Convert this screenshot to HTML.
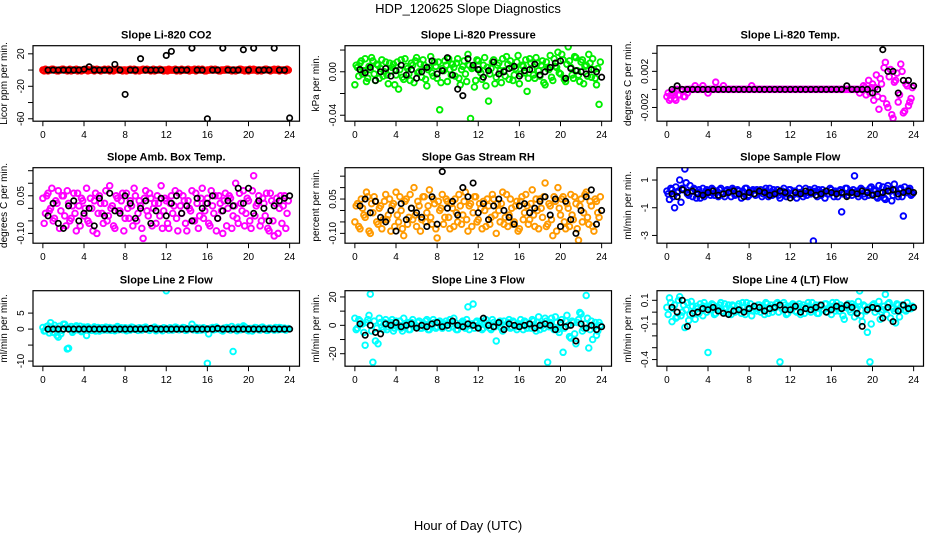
<!DOCTYPE html>
<html><head><meta charset="utf-8"><title>HDP_120625 Slope Diagnostics</title>
<style>
html,body{margin:0;padding:0;background:#fff;}
svg{display:block;font-family:"Liberation Sans",Arial,sans-serif;}
</style></head>
<body>
<svg id="chart" width="936" height="540" viewBox="0 0 936 540" xmlns="http://www.w3.org/2000/svg">
<rect x="0" y="0" width="936" height="540" fill="#fff"/>
<text x="468" y="13" text-anchor="middle" font-size="13">HDP_120625  Slope Diagnostics</text>
<text x="468" y="530" text-anchor="middle" font-size="13">Hour of Day (UTC)</text>
</svg>
<script>
const timesColored = [0,0.25,0.5,0.75,1,1.25,1.5,1.75,2,2.25,2.5,2.75,3,3.25,3.5,3.75,4,4.25,4.5,4.75,5,5.25,5.5,5.75,6,6.25,6.5,6.75,7,7.25,7.5,7.75,8,8.25,8.5,8.75,9,9.25,9.5,9.75,10,10.25,10.5,10.75,11,11.25,11.5,11.75,12,12.25,12.5,12.75,13,13.25,13.5,13.75,14,14.25,14.5,14.75,15,15.25,15.5,15.75,16,16.25,16.5,16.75,17,17.25,17.5,17.75,18,18.25,18.5,18.75,19,19.25,19.5,19.75,20,20.25,20.5,20.75,21,21.25,21.5,21.75,22,22.25,22.5,22.75,23,23.25,23.5,23.75];
const timesColored2 = [0.125,0.375,0.625,0.875,1.125,1.375,1.625,1.875,2.125,2.375,2.625,2.875,3.125,3.375,3.625,3.875,4.125,4.375,4.625,4.875,5.125,5.375,5.625,5.875,6.125,6.375,6.625,6.875,7.125,7.375,7.625,7.875,8.125,8.375,8.625,8.875,9.125,9.375,9.625,9.875,10.125,10.375,10.625,10.875,11.125,11.375,11.625,11.875,12.125,12.375,12.625,12.875,13.125,13.375,13.625,13.875,14.125,14.375,14.625,14.875,15.125,15.375,15.625,15.875,16.125,16.375,16.625,16.875,17.125,17.375,17.625,17.875,18.125,18.375,18.625,18.875,19.125,19.375,19.625,19.875,20.125,20.375,20.625,20.875,21.125,21.375,21.625,21.875,22.125,22.375,22.625,22.875,23.125,23.375,23.625,23.875];
const timesBlack = [0.5,1,1.5,2,2.5,3,3.5,4,4.5,5,5.5,6,6.5,7,7.5,8,8.5,9,9.5,10,10.5,11,11.5,12,12.5,13,13.5,14,14.5,15,15.5,16,16.5,17,17.5,18,18.5,19,19.5,20,20.5,21,21.5,22,22.5,23,23.5,24];
const xTicks = [0,4,8,12,16,20,24];

const co2Colored = [0,1,-1,0,1,0,-1,0,1,0,0,-1,0,1,0,-1,0,1,0,0,-1,1,0,0,1,0,-1,0,0,1,0,-1,0,0,1,0,-1,0,0,1,0,0,-1,1,0,0,0,-1,0,1,0,0,-1,0,1,0,0,-1,0,1,0,0,1,-1,0,0,0,1,0,-1,0,0,1,0,0,-1,0,1,0,0,-1,0,1,0,0,-1,0,1,0,0,1,0,-1,0,0,1];
const co2Colored2 = [-1,0,0,1,0,-1,0,1,0,-1,1,0,0,-1,0,0,1,-1,0,1,0,0,-1,0,0,1,0,-1,1,0,0,0,-1,0,0,1,0,-1,0,0,1,0,0,-1,0,1,0,0,-1,0,0,1,0,-1,0,0,1,0,0,-1,1,0,0,-1,0,1,0,0,-1,0,0,1,0,-1,0,0,1,0,-1,0,1,0,0,-1,0,0,1,0,-1,0,0,1,0,0,-1,0];
const co2Black = [0,0,0,0,0,0,0,1,4,0,0,0,0,7,0,-30,0,0,14,0,0,0,0,18,23,0,0,0,27,0,0,-60,0,0,27,0,0,0,25,0,27,0,0,0,27,0,0,-59];

const presColored = [-0.012,0.004,0.008,-0.002,0.012,-0.006,0.002,0.010,-0.008,0.006,0.003,-0.004,0.009,-0.011,0.001,0.007,-0.003,-0.016,0.011,-0.007,0.005,-0.002,0.008,-0.010,0.013,0.000,-0.005,0.006,-0.013,0.004,-0.001,0.009,-0.006,-0.035,0.003,0.010,-0.009,0.002,0.007,-0.004,0.012,-0.012,0.005,-0.002,0.016,-0.043,0.004,-0.008,0.010,-0.001,0.006,-0.013,-0.027,0.003,0.011,-0.005,0.008,-0.010,0.001,0.014,-0.007,0.004,-0.003,0.009,-0.011,0.006,-0.001,-0.018,0.012,0.002,-0.006,0.008,-0.004,0.010,-0.012,0.003,0.015,-0.008,0.005,0.018,-0.002,0.011,-0.009,0.023,0.004,-0.006,0.013,-0.003,0.009,-0.011,0.006,0.016,-0.005,0.002,-0.012,-0.030];
const presColored2 = [0.006,-0.004,0.010,0.001,-0.009,0.005,0.013,-0.002,0.007,-0.006,0.011,0.000,-0.003,0.008,0.004,-0.012,0.009,0.002,-0.005,0.012,0.003,-0.008,0.006,0.010,-0.001,0.007,0.011,-0.007,0.002,0.014,-0.004,0.005,0.009,-0.010,0.001,0.006,0.012,-0.003,0.004,0.008,-0.006,0.002,0.010,-0.009,0.006,0.003,-0.014,0.011,0.002,-0.007,0.013,0.004,-0.002,0.009,-0.011,0.006,0.001,0.012,-0.004,0.007,0.010,-0.008,0.003,0.015,-0.002,0.005,0.011,-0.006,0.008,-0.003,0.013,0.001,0.006,-0.010,0.009,0.002,-0.005,0.012,0.004,-0.001,0.016,-0.007,0.007,0.010,-0.003,0.014,0.001,-0.009,0.011,0.005,-0.004,0.008,0.012,-0.006,0.003,0.009];
const presBlack = [0.002,-0.001,0.004,-0.008,0.000,0.003,-0.004,0.001,0.006,-0.003,0.002,-0.006,0.000,0.004,0.010,-0.002,0.001,0.013,-0.003,-0.016,-0.022,0.012,0.006,0.002,-0.005,0.001,0.009,-0.002,0.000,0.003,0.005,-0.004,0.001,0.002,0.007,-0.003,0.000,0.004,0.008,0.010,-0.006,0.003,0.001,0.000,-0.002,0.002,0.000,-0.005];

const tempColored = [-0.0008,-0.0012,-0.0004,-0.0010,0,-0.0006,-0.0002,-0.0008,-0.0004,0,0,0.0004,0,0,0.0004,0,-0.0004,0,0,0.0008,0,0,0.0004,0,0,0,0,0,0,0,0,0,0,0.0004,0,0,0,0,0,0,0,0,0,0,0,0,0,0,0,0,0,0,0,0,0,0,0,0,0,0,0,0,0,0,0,0,0,0,0,0,0,0,0,0,0,-0.0004,0,0.0002,0,-0.0004,0.0006,0.0002,-0.0008,0.0012,-0.0010,0.0030,-0.0020,0.0022,-0.0032,0.0010,-0.0014,0.0028,-0.0026,0.0006,-0.0018,-0.0010];
const tempColored2 = [-0.0004,-0.0010,-0.0002,-0.0012,-0.0006,0,-0.0008,0,
0,0,0,0,0,0,0,0,0,0,0,0,
0,0,0,0,0,0,0,0,0,0,0,0,
0,0,0,0,0,0,0,0,0,0,0,0,
0,0,0,0,0,0,0,0,0,0,0,0,
0,0,0,0,0,0,0,0,0,0,0,0,
0,0,0,0,0,0,0,0,
0.0004,-0.0006,0.0010,0.0002,-0.0012,0.0016,-0.0022,0.0006,0.0024,-0.0016,0.0014,-0.0028,0.0008,0.0018,-0.0006,0.0020,-0.0024,0.0004,-0.0014,0.0002];
const tempBlack = [0,0.0004,0,0,0,0,0,0,0,0,0,0,0,0,0,0,0,0,0,0,0,0,0,0,0,0,0,0,0,0,0,0,0,0,0.0004,0,0,0,0,-0.0004,0,0.0044,0.0020,0.0020,-0.0004,0.0010,0.0010,0.0004];

const ambColored = [0.04,-0.02,0.06,0.00,-0.05,0.03,0.07,-0.01,0.05,-0.07,0.02,-0.04,0.06,-0.09,0.01,0.04,-0.03,0.08,-0.06,0.00,0.03,-0.10,0.05,-0.02,0.02,-0.05,0.09,0.01,-0.08,0.04,-0.01,0.06,-0.04,0.00,0.03,-0.07,0.05,-0.02,0.01,-0.12,0.07,-0.03,0.04,0.00,-0.06,0.02,0.09,-0.01,0.03,-0.08,0.05,0.01,-0.04,0.06,-0.02,0.03,-0.09,0.00,0.07,-0.05,0.02,-0.03,0.08,-0.01,0.04,-0.07,0.01,0.05,-0.04,0.02,-0.10,0.06,0.00,0.04,-0.03,0.10,-0.06,0.02,0.07,-0.02,0.03,-0.08,0.13,0.01,0.05,-0.05,0.02,0.06,-0.09,0.03,-0.11,0.04,0.00,-0.06,0.05,-0.02];
const ambColored2 = [-0.06,0.05,-0.01,0.08,-0.04,0.02,-0.08,0.05,-0.03,0.07,-0.05,0.01,-0.02,0.06,-0.07,0.03,0.00,-0.05,0.04,-0.09,0.06,-0.02,0.02,-0.06,0.07,-0.03,0.00,-0.07,0.05,-0.01,0.03,-0.09,0.06,-0.04,0.01,0.08,-0.05,0.03,-0.08,0.04,-0.01,0.06,-0.07,0.02,0.05,-0.03,-0.08,0.04,-0.06,0.02,-0.02,0.07,-0.09,0.01,0.05,-0.06,0.03,-0.01,-0.05,0.06,-0.08,0.04,-0.04,0.02,-0.06,0.07,-0.02,-0.09,0.05,-0.01,0.03,-0.07,0.05,-0.08,0.01,-0.04,0.06,-0.01,-0.07,0.04,-0.05,0.07,-0.03,0.02,-0.07,0.04,-0.03,-0.08,0.06,-0.05,0.02,-0.10,0.05,0.01,-0.08,0.03];
const ambBlack = [-0.03,0.02,-0.06,-0.08,0.01,0.03,-0.05,-0.02,0.00,-0.07,0.04,-0.03,0.06,-0.01,-0.02,0.05,0.02,-0.04,0.00,0.03,-0.06,-0.01,0.04,-0.03,0.02,0.05,-0.02,0.01,-0.05,0.04,0.00,0.02,0.05,-0.04,-0.01,0.03,0.01,0.08,0.02,0.08,-0.02,0.03,0.00,-0.05,0.01,0.03,0.04,0.05];

const rhColored = [-0.05,0.03,-0.08,0.01,-0.03,0.06,-0.10,-0.01,0.04,-0.06,0.02,-0.04,0.07,-0.02,-0.09,0.03,0.08,-0.05,0.00,-0.11,0.05,-0.03,0.01,0.10,-0.07,0.02,-0.04,0.06,-0.01,0.09,-0.06,0.03,-0.12,0.00,0.07,-0.03,0.04,-0.08,0.01,0.05,-0.05,0.02,-0.02,0.08,-0.09,0.03,-0.01,0.06,-0.04,0.01,0.04,-0.07,0.02,-0.03,0.05,-0.10,0.00,0.03,-0.06,0.07,-0.02,0.01,-0.05,0.04,-0.08,0.06,-0.01,0.02,-0.04,0.09,-0.07,0.00,0.05,-0.03,0.12,-0.06,0.02,-0.11,0.04,0.10,-0.02,0.06,-0.08,0.01,0.07,-0.04,0.03,-0.13,0.05,-0.01,0.08,-0.06,0.02,-0.09,0.04,-0.03];
const rhColored2 = [0.02,-0.07,0.05,-0.02,0.08,-0.09,0.03,0.06,-0.05,0.01,-0.08,0.04,-0.04,0.05,0.02,-0.07,-0.02,0.06,-0.08,0.04,-0.06,0.07,-0.04,-0.02,0.04,-0.09,0.06,-0.05,0.02,-0.03,0.05,-0.08,0.04,0.01,-0.06,0.05,-0.03,0.03,-0.07,-0.01,0.07,-0.06,0.04,-0.04,0.02,-0.07,0.06,-0.05,0.03,-0.08,0.00,0.05,-0.06,0.07,-0.02,0.03,-0.05,0.08,-0.03,-0.07,0.05,-0.06,0.02,-0.09,0.04,-0.04,0.07,-0.06,0.03,-0.02,0.05,-0.08,0.01,0.06,-0.07,0.03,-0.04,0.06,-0.09,0.01,0.05,-0.05,0.03,-0.07,-0.02,0.06,-0.08,0.02,-0.05,0.07,-0.03,0.04,-0.07,0.05,-0.01,0.06];
const rhBlack = [0.02,0.05,-0.01,0.04,-0.03,-0.05,0.00,-0.09,0.03,-0.04,0.01,-0.01,-0.03,-0.07,0.06,-0.06,0.17,0.01,0.04,-0.02,0.10,0.06,0.12,-0.01,0.03,-0.04,0.02,0.05,0.00,-0.03,-0.06,0.02,0.03,-0.01,0.01,0.04,0.06,-0.02,0.05,-0.07,0.04,-0.04,-0.10,0.00,0.06,0.09,-0.06,0.00];

const flowColored = [0.2,-0.4,0.3,-1.0,0.1,1.0,0.4,1.8,0.0,0.6,-0.2,0.3,0.1,-0.3,0.4,0.0,0.2,-0.1,0.3,0.1,-0.2,0.4,0.0,0.2,0.1,-0.2,0.3,0.0,0.2,-0.3,0.1,0.4,-0.1,0.2,0.0,0.3,0.1,-0.2,0.2,0.0,0.4,-0.1,0.1,0.3,-0.3,0.2,0.0,0.1,0.3,-0.1,0.2,0.0,0.1,-0.2,0.4,0.1,0.0,-3.4,0.2,0.3,-0.1,0.1,0.2,0.0,0.3,-0.2,0.1,0.2,-1.3,0.0,0.4,0.1,-0.1,1.3,0.2,0.0,0.3,-0.2,0.1,0.4,0.0,0.2,-0.3,0.1,0.5,-0.4,0.6,0.2,-0.1,0.3,-0.2,0.4,-1.6,0.1,0.3,-0.1];
const flowColored2 = [0.0,0.4,-0.2,0.5,0.2,-0.6,0.3,0.8,-0.1,0.2,0.4,-0.3,0.3,0.0,-0.2,0.3,0.1,0.4,-0.1,0.2,0.3,0.0,-0.2,0.3,0.2,0.4,-0.1,0.3,0.0,0.2,0.4,-0.2,0.1,0.3,-0.1,0.2,0.3,0.0,0.4,-0.2,0.1,0.3,0.0,-0.1,0.2,0.4,-0.2,0.3,0.0,0.2,-0.3,0.4,0.1,0.0,-0.1,0.3,0.2,0.4,-0.2,0.1,0.3,-0.3,0.0,0.4,0.1,0.2,-0.2,0.3,0.0,0.4,-0.1,0.2,0.3,0.1,-0.2,0.4,0.0,0.2,-0.1,0.5,0.3,-0.2,0.6,0.1,-0.3,0.4,0.2,-0.5,0.7,0.0,0.3,-0.2,0.5,0.1,0.4,0.0];
const flowBlack = [0.0,-0.2,0.3,0.1,0.2,0.0,-0.1,0.1,0.2,-0.1,0.0,0.1,0.2,0.0,-0.2,0.1,0.0,0.2,0.1,-0.1,0.0,0.2,0.1,-0.3,0.1,0.0,0.2,0.1,-0.1,0.0,0.2,0.1,0.0,0.1,-0.2,0.1,0.0,0.2,0.1,-0.1,0.0,0.1,0.2,0.3,0.0,0.1,0.2,0.1];

const line2Colored = [0.5,-0.5,1.0,2.0,-1.0,0.3,-2.5,-1.5,1.5,0.5,-6.0,0.8,-0.5,1.0,0.2,-0.8,0.6,-2.0,0.3,-0.4,0.7,0.0,-0.6,0.4,0.2,-0.3,0.5,0.0,-0.5,0.8,0.1,-0.2,0.4,0.0,-0.3,0.5,0.2,-0.4,0.3,0.0,0.6,-0.2,0.1,0.3,-0.5,0.2,0.0,0.4,12.0,-0.3,0.2,0.0,0.5,-0.2,0.1,0.4,-0.3,0.2,1.5,0.0,-0.4,0.3,0.1,-0.2,-10.7,0.2,0.5,-0.1,0.3,0.0,-0.6,0.2,0.4,-0.3,-7.0,0.1,0.6,-0.2,1.0,0.3,-0.5,0.2,0.0,0.4,-0.2,0.5,0.1,-0.4,0.3,0.0,-0.3,0.2,0.5,-0.1,0.3,0.0];
const line2Colored2 = [-0.6,0.8,-1.2,0.4,1.2,-2.0,0.9,-0.4,1.5,-6.2,0.3,-1.0,0.6,-0.2,0.9,-0.5,0.3,0.7,-0.3,0.2,-0.6,0.5,0.1,-0.3,0.6,0.0,-0.4,0.3,0.5,-0.2,0.4,0.0,-0.5,0.3,0.6,-0.1,0.2,0.4,-0.3,0.5,0.0,-0.4,0.3,0.6,-0.2,0.1,-0.5,0.3,0.0,0.4,-0.3,0.6,-0.1,0.2,0.5,-0.4,0.1,0.3,-0.2,0.5,0.0,-0.3,0.4,0.1,-1.5,0.3,-0.2,0.6,0.0,-0.4,0.3,0.5,-0.1,0.8,0.2,-0.5,0.4,0.0,0.7,-0.3,0.2,-0.6,0.5,0.1,-0.3,0.6,0.2,-0.4,0.3,0.0,0.5,-0.2,0.4,0.1,-0.3,0.2];
const line2Black = [0,0,0,0,0,0,0,0,0,0,0,0,0,0,0,0,0,0,0,0,0.2,0,0,0,0,0,0,0,0,0,0,0,0,0.2,0,0,0,0,0,0,0,0,0,0,0,0,0,0];

const line3Colored = [5,-2,3,1,-14,4,22,-26,-11,-13,2,-3,4,-1,2,-4,3,0,-2,5,1,-3,2,0,-1,3,-2,1,4,-3,0,2,-1,3,-2,1,0,4,-1,2,-3,1,3,-2,13,0,15,2,-1,3,-2,4,0,-3,2,-11,1,-2,3,0,4,-1,2,-3,1,0,3,-2,1,4,-1,2,-3,0,5,-26,2,-1,6,-3,1,-19,3,0,-9,2,-13,4,8,-2,21,-16,3,-1,-7,2];
const line3Colored2 = [-3,4,1,-5,2,7,-4,3,-2,5,-1,2,-3,1,4,-2,0,3,-4,1,2,-3,4,-1,2,-2,0,3,-3,1,4,-2,2,-1,0,3,-2,1,5,-3,0,2,-1,4,-3,1,-2,3,1,-3,2,0,-2,4,-1,1,3,-4,0,2,-2,3,-1,0,4,-3,2,1,-2,3,-4,6,1,-2,3,-1,5,-3,2,-5,4,-2,7,-8,3,-6,2,9,-4,1,5,-3,-10,2,-4,0];
const line3Black = [1,-7,0,-5,-6,1,0,2,-1,0,1,-2,0,-1,1,2,-1,0,3,0,-1,1,0,-2,5,0,-1,2,-3,1,0,-1,0,1,-2,0,1,0,-3,2,-1,0,-11,1,-2,0,-3,-1];

const line4Colored = [0.04,0.12,-0.08,0.06,-0.04,0.13,0.00,-0.13,0.08,-0.02,0.05,-0.06,0.03,0.07,-0.03,0.05,-0.34,0.02,0.06,-0.01,0.04,0.08,0.00,0.03,0.06,-0.02,0.05,0.01,0.07,-0.01,0.04,0.08,0.02,-0.03,0.05,0.01,0.06,0.03,-0.02,0.07,0.04,0.00,0.05,0.08,-0.42,0.02,0.06,-0.01,0.04,0.07,0.01,0.05,-0.02,0.06,0.03,0.08,0.00,0.04,0.06,-0.01,0.05,0.02,0.07,0.03,-0.02,0.05,0.08,0.01,0.04,-0.06,0.06,0.02,0.07,-0.04,0.03,0.18,-0.08,0.05,-0.17,-0.42,0.06,0.00,0.04,-0.06,0.02,0.15,0.07,-0.05,0.03,-0.09,0.06,0.02,0.05,0.01,0.04,0.03];
const line4Colored2 = [-0.02,0.08,0.03,-0.05,0.10,-0.03,0.06,0.02,-0.07,0.09,0.01,0.05,-0.01,0.04,0.08,0.00,0.05,0.07,-0.02,0.04,0.06,0.01,0.07,-0.01,0.03,0.06,0.00,0.05,0.02,0.08,-0.02,0.04,0.07,0.01,0.03,0.06,0.00,0.05,0.08,-0.01,0.06,0.03,0.07,0.00,0.04,0.08,-0.02,0.05,0.02,0.06,0.00,0.07,0.04,-0.01,0.05,0.02,0.08,0.03,-0.01,0.06,0.02,0.07,0.00,0.05,0.08,0.01,0.03,0.06,-0.03,0.04,0.07,0.00,0.05,0.02,0.09,-0.03,0.06,0.01,0.04,-0.10,0.07,0.03,0.09,0.00,0.05,-0.02,0.08,0.04,0.01,0.07,-0.04,0.06,0.02,0.08,0.03,0.05];
const line4Black = [0.04,0.00,0.10,-0.12,-0.01,0.00,0.03,0.02,0.04,0.01,-0.01,-0.02,0.01,0.02,0.00,0.03,0.05,0.04,0.01,0.03,0.04,0.06,0.02,0.02,0.05,0.00,0.03,0.02,0.04,0.06,0.00,0.02,0.05,0.03,0.06,0.04,-0.01,-0.12,0.02,0.04,0.03,-0.05,0.04,-0.08,0.01,0.06,0.03,0.04];

const panelTitles = ["Slope Li-820 CO2","Slope Li-820 Pressure","Slope Li-820 Temp.","Slope Amb. Box Temp.","Slope Gas Stream RH","Slope Sample Flow","Slope Line 2 Flow","Slope Line 3 Flow","Slope Line 4 (LT) Flow"];
const panelYLabels = ["Licor ppm per min.","kPa per min.","degrees C per min.","degrees C per min.","percent per min.","ml/min per min.","ml/min per min.","ml/min per min.","ml/min per min."];
const panelYRange = [[-63,30],[-0.0455,0.024],[-0.00352,0.00484],[-0.139,0.162],[-0.143,0.187],[-3.56,1.89],[-11.6,12.0],[-28.8,24.4],[-0.456,0.181]];
const panelYTicks = [[20,0,-20,-40,-60],[0.02,0,-0.02,-0.04],[0.004,0.002,0,-0.002],[0.15,0.10,0.05,0,-0.05,-0.10],[0.15,0.10,0.05,0,-0.05,-0.10],[1,-1,-3],[5,0,-5,-10],[20,10,0,-10,-20],[0.1,0,-0.1,-0.2,-0.3,-0.4]];
const panelYTickLabels = [["20","","-20","","-60"],["","0.00","","-0.04"],["","0.002","","-0.002"],["","","0.05","","","-0.10"],["","","0.05","","","-0.10"],["1","-1","-3"],["5","0","","-10"],["20","","0","","-20"],["0.1","","-0.1","","","-0.4"]];
const panelColors = ["#ff0000","#00ee00","#ff00ff","#ff00ff","#ff9a00","#0000ff","#00ffff","#00ffff","#00ffff"];
const panelColoredSeries = [co2Colored,presColored,tempColored,ambColored,rhColored,flowColored,line2Colored,line3Colored,line4Colored];
const panelColoredSeries2 = [co2Colored2,presColored2,tempColored2,ambColored2,rhColored2,flowColored2,line2Colored2,line3Colored2,line4Colored2];
const panelBlackSeries = [co2Black,presBlack,tempBlack,ambBlack,rhBlack,flowBlack,line2Black,line3Black,line4Black];
const panelKeys = ["co2","pressure","licor-temp","amb-box-temp","gas-rh","sample-flow","line2-flow","line3-flow","line4-flow"];

const NS = "http://www.w3.org/2000/svg";
const svg = document.getElementById("chart");
const rowTops = [45.7,167.7,290.7], boxH = 75.5, boxW = 266.5;
function mk(tag, attrs, parent){ const e=document.createElementNS(NS,tag); for(const k in attrs) e.setAttribute(k,attrs[k]); (parent||svg).appendChild(e); return e; }

for (let p=0;p<9;p++){
  const r=Math.floor(p/3), c=p%3;
  const x0=33+312*c, y0=rowTops[r];
  const [ymin,ymax]=panelYRange[p];
  const xs=t=>x0+(t+0.96)/25.92*boxW;
  const ys=v=>y0+(ymax-v)/(ymax-ymin)*boxH;
  const g=mk("g",{});
  
  

  const ttl=mk("text",{x:x0+boxW/2,y:y0-7,"text-anchor":"middle","font-size":"11","font-weight":"bold"},g);
  ttl.textContent=panelTitles[p];
  
  

  const yl=mk("text",{x:0,y:0,"text-anchor":"middle","font-size":"10",transform:`translate(${x0-26},${y0+boxH/2}) rotate(-90)`},g);
  yl.textContent=panelYLabels[p];
  
  

  const xa=mk("g",{},g);
  
  
  mk("line",{x1:xs(xTicks[0]),x2:xs(xTicks[xTicks.length-1]),y1:y0+boxH,y2:y0+boxH,stroke:"#000","stroke-width":1},xa);
  xTicks.forEach(t=>{
    mk("line",{x1:xs(t),x2:xs(t),y1:y0+boxH,y2:y0+boxH+5,stroke:"#000","stroke-width":1},xa);
    const tl=mk("text",{x:xs(t),y:y0+boxH+17,"text-anchor":"middle","font-size":"10"},xa);
    tl.textContent=String(t);
    
    
  });
  const ya=mk("g",{},g);
  
  
  const tk=panelYTicks[p];
  mk("line",{x1:x0,x2:x0,y1:ys(tk[0]),y2:ys(tk[tk.length-1]),stroke:"#000","stroke-width":1},ya);
  tk.forEach((v,i)=>{
    mk("line",{x1:x0-5,x2:x0,y1:ys(v),y2:ys(v),stroke:"#000","stroke-width":1},ya);
    const lab=panelYTickLabels[p][i];
    if(lab){
      const tl=mk("text",{x:0,y:0,"text-anchor":"middle","font-size":"10",transform:`translate(${x0-9},${ys(v)}) rotate(-90)`},ya);
      tl.textContent=lab;
      
      
    }
  });

  const clipId="clip"+p;
  const cp=mk("clipPath",{id:clipId},g);
  mk("rect",{x:x0,y:y0,width:boxW,height:boxH},cp);
  const pts=mk("g",{"clip-path":`url(#${clipId})`},g);
  
  

  const cs=panelColoredSeries[p];
  for(let i=0;i<Math.min(cs.length,timesColored.length);i++){
    const ci=mk("circle",{cx:xs(timesColored[i]),cy:ys(cs[i]),r:2.8,fill:"none",stroke:panelColors[p],"stroke-width":1.9},pts);
    
    
  }
  const cs2=panelColoredSeries2[p];
  for(let i=0;i<Math.min(cs2.length,timesColored2.length);i++){
    const ci=mk("circle",{cx:xs(timesColored2[i]),cy:ys(cs2[i]),r:2.8,fill:"none",stroke:panelColors[p],"stroke-width":1.9},pts);
    
    
  }
  const bs=panelBlackSeries[p];
  for(let i=0;i<Math.min(bs.length,timesBlack.length);i++){
    const ci=mk("circle",{cx:xs(timesBlack[i]),cy:ys(bs[i]),r:2.7,fill:"none",stroke:"#000","stroke-width":1.7},pts);
    
    
  }

  const box=mk("rect",{x:x0,y:y0,width:boxW,height:boxH,fill:"none",stroke:"#000","stroke-width":1.2},g);
  
  
}
</script>
</body></html>
